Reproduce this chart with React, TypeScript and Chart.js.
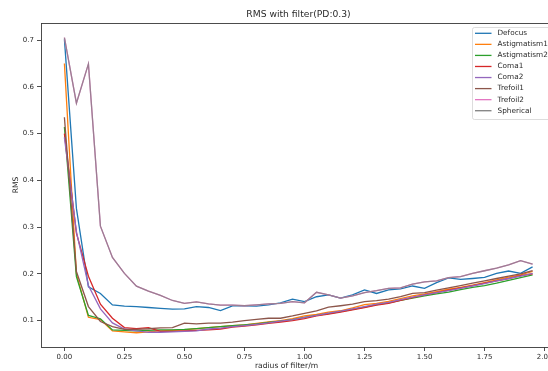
import { useEffect, useRef } from "react";
import { Chart, registerables } from "chart.js";
Chart.register(...registerables);

const RADIUS = [0, 0.05, 0.1, 0.15, 0.2, 0.25, 0.3, 0.35, 0.4, 0.45, 0.5, 0.55, 0.6, 0.65, 0.7, 0.75, 0.8, 0.85, 0.9, 0.95,
  1.0, 1.05, 1.1, 1.15, 1.2, 1.25, 1.3, 1.35, 1.4, 1.45, 1.5, 1.55, 1.6, 1.65, 1.7, 1.75, 1.8, 1.85, 1.9, 1.95];

const DEFOCUS = [0.702, 0.34, 0.172, 0.158, 0.1335, 0.131, 0.13, 0.128, 0.126, 0.1245, 0.125, 0.13, 0.128, 0.1215, 0.1315, 0.1315, 0.131, 0.1335, 0.138, 0.146,
  0.1405, 0.151, 0.155, 0.148, 0.155, 0.1655, 0.158, 0.1655, 0.168, 0.174, 0.169, 0.181, 0.1915, 0.188, 0.19, 0.1925, 0.201, 0.206, 0.201, 0.215];
const ASTIGMATISM1 = [0.65, 0.2, 0.107, 0.102, 0.078, 0.076, 0.074, 0.076, 0.078, 0.079, 0.08, 0.083, 0.085, 0.087, 0.089, 0.091, 0.094, 0.097, 0.1, 0.104,
  0.11, 0.113, 0.118, 0.121, 0.127, 0.134, 0.137, 0.141, 0.147, 0.153, 0.157, 0.162, 0.167, 0.171, 0.176, 0.181, 0.187, 0.193, 0.198, 0.205];
const ASTIGMATISM2 = [0.514, 0.194, 0.111, 0.104, 0.08, 0.079, 0.078, 0.079, 0.08, 0.08, 0.081, 0.083, 0.085, 0.087, 0.089, 0.091, 0.093, 0.096, 0.099, 0.102,
  0.107, 0.111, 0.115, 0.119, 0.124, 0.129, 0.134, 0.138, 0.143, 0.148, 0.153, 0.157, 0.161, 0.166, 0.171, 0.175, 0.18, 0.186, 0.192, 0.198];
const COMA1 = [0.5, 0.287, 0.195, 0.135, 0.105, 0.085, 0.083, 0.085, 0.077, 0.077, 0.078, 0.079, 0.08, 0.082, 0.086, 0.088, 0.091, 0.094, 0.097, 0.1,
  0.104, 0.11, 0.114, 0.118, 0.123, 0.128, 0.133, 0.137, 0.143, 0.149, 0.155, 0.16, 0.165, 0.17, 0.175, 0.18, 0.185, 0.19, 0.196, 0.2];
const COMA2 = [0.492, 0.29, 0.175, 0.125, 0.095, 0.082, 0.078, 0.075, 0.075, 0.076, 0.077, 0.078, 0.082, 0.084, 0.087, 0.089, 0.092, 0.095, 0.099, 0.102,
  0.107, 0.111, 0.116, 0.12, 0.125, 0.13, 0.135, 0.139, 0.145, 0.15, 0.155, 0.16, 0.164, 0.169, 0.174, 0.179, 0.185, 0.19, 0.195, 0.201];
const TREFOIL1 = [0.535, 0.205, 0.13, 0.098, 0.087, 0.081, 0.081, 0.0825, 0.0846, 0.085, 0.0945, 0.093, 0.0945, 0.0945, 0.0966, 0.1, 0.1025, 0.105, 0.105, 0.11,
  0.1156, 0.1206, 0.1286, 0.1317, 0.135, 0.1405, 0.1426, 0.146, 0.151, 0.158, 0.16, 0.165, 0.17, 0.175, 0.18, 0.185, 0.19, 0.195, 0.2, 0.207];
const TREFOIL2 = [0.705, 0.565, 0.649, 0.302, 0.235, 0.201, 0.1735, 0.163, 0.154, 0.143, 0.137, 0.14, 0.1356, 0.133, 0.133, 0.1317, 0.1335, 0.1356, 0.137, 0.1405,
  0.138, 0.1605, 0.155, 0.148, 0.153, 0.16, 0.164, 0.169, 0.17, 0.178, 0.183, 0.185, 0.1917, 0.194, 0.201, 0.2066, 0.212, 0.219, 0.228, 0.221];
const SPHERICAL = [0.705, 0.565, 0.649, 0.302, 0.235, 0.201, 0.1735, 0.163, 0.154, 0.143, 0.137, 0.14, 0.1356, 0.133, 0.133, 0.1317, 0.1335, 0.1356, 0.137, 0.1405,
  0.138, 0.1605, 0.155, 0.148, 0.153, 0.16, 0.164, 0.169, 0.17, 0.178, 0.183, 0.185, 0.1917, 0.194, 0.201, 0.2066, 0.212, 0.219, 0.228, 0.221];

const SERIES_NAMES = ["Defocus", "Astigmatism1", "Astigmatism2", "Coma1", "Coma2", "Trefoil1", "Trefoil2", "Spherical"];
const SERIES_VALUES = [DEFOCUS, ASTIGMATISM1, ASTIGMATISM2, COMA1, COMA2, TREFOIL1, TREFOIL2, SPHERICAL];
const SERIES_COLORS = ["#1f77b4", "#ff7f0e", "#2ca02c", "#d62728", "#9467bd", "#8c564b", "#e377c2", "#7f7f7f"];
const LINE_COLORS = ["#1f77b4", "#ff7f0e", "#2ca02c", "#d62728", "#9467bd", "#8c564b", "#e377c2", "rgba(127,127,127,0.72)"];

const X_TICKS = [0, 0.25, 0.5, 0.75, 1.0, 1.25, 1.5, 1.75, 2.0];
const Y_TICKS = [0.1, 0.2, 0.3, 0.4, 0.5, 0.6, 0.7];

const TITLE = "RMS with filter(PD:0.3)";
const X_LABEL = "radius of filter/m";
const Y_LABEL = "RMS";

const FONT = "'DejaVu Sans', sans-serif";
const TEXT = "#2a2a2a";

const decorPlugin = {
  id: "decor",
  afterDatasetsDraw(chart: any) {
    const { ctx, chartArea: a } = chart;
    ctx.save();
    ctx.strokeStyle = "#3a3a3a";
    ctx.lineWidth = 0.9;
    ctx.strokeRect(a.left + 0.5, a.top + 0.5, a.right - a.left - 1, a.bottom - a.top);
    ctx.restore();
  },
  afterDraw(chart: any) {
    const { ctx, chartArea: a } = chart;
    ctx.save();
    ctx.fillStyle = TEXT;
    // title
    ctx.font = `9.2px ${FONT}`;
    ctx.textAlign = "center";
    ctx.textBaseline = "middle";
    ctx.fillText(TITLE, (a.left + a.right) / 2, 14.5);
    // x label
    ctx.font = `7.6px ${FONT}`;
    ctx.fillText(X_LABEL, (a.left + a.right) / 2 - 12, 366.5);
    // y label
    ctx.save();
    ctx.translate(16.5, (a.top + a.bottom) / 2);
    ctx.rotate(-Math.PI / 2);
    ctx.fillText(Y_LABEL, 0, 0);
    ctx.restore();
    // legend
    const bx = 472, by = 27, bw = 90, bh = 92;
    ctx.fillStyle = "rgba(255,255,255,0.85)";
    ctx.strokeStyle = "#d4d4d4";
    ctx.lineWidth = 0.8;
    ctx.beginPath();
    (ctx as any).roundRect(bx + 0.5, by + 0.5, bw, bh, 2);
    ctx.fill();
    ctx.stroke();
    ctx.font = `7.3px ${FONT}`;
    ctx.textAlign = "left";
    ctx.textBaseline = "middle";
    SERIES_NAMES.forEach((name, i) => {
      const y = 33.3 + i * 11.06;
      ctx.strokeStyle = SERIES_COLORS[i];
      ctx.lineWidth = 1.3;
      ctx.beginPath();
      ctx.moveTo(475, y);
      ctx.lineTo(491.5, y);
      ctx.stroke();
      ctx.fillStyle = TEXT;
      ctx.fillText(name, 497.5, y);
    });
    ctx.restore();
  },
};

export default function App() {
  const ref = useRef<HTMLCanvasElement | null>(null);
  useEffect(() => {
    if (!ref.current) return;
    const chart = new Chart(ref.current, {
      type: "line",
      data: {
        datasets: SERIES_NAMES.map((name, i) => ({
          label: name,
          data: RADIUS.map((x, j) => ({ x, y: SERIES_VALUES[i][j] })),
          borderColor: LINE_COLORS[i],
          backgroundColor: SERIES_COLORS[i],
          borderWidth: 1.3,
          pointRadius: 0,
          tension: 0,
          fill: false,
          order: SERIES_NAMES.length - i,
        })),
      },
      options: {
        animation: false,
        responsive: false,
        devicePixelRatio: 1,
        layout: { padding: { top: 23, left: 0, right: 0, bottom: 0 } },
        plugins: {
          legend: { display: false },
          title: { display: false },
          tooltip: { enabled: false },
        },
        scales: {
          x: {
            type: "linear",
            min: -0.0975,
            max: 2.0475,
            afterBuildTicks: (s: any) => {
              s.ticks = X_TICKS.map((v) => ({ value: v }));
            },
            afterFit: (s: any) => {
              s.height = 24;
            },
            grid: { display: true, drawOnChartArea: false, drawTicks: true, tickLength: 4, color: "#3a3a3a", lineWidth: 0.9 },
            border: { display: false },
            ticks: {
              autoSkip: false,
              maxRotation: 0,
              padding: 2,
              color: TEXT,
              font: { family: FONT, size: 7 },
              callback: (v: any) => Number(v).toFixed(2),
            },
          },
          y: {
            type: "linear",
            min: 0.0435,
            max: 0.7365,
            afterBuildTicks: (s: any) => {
              s.ticks = Y_TICKS.map((v) => ({ value: v }));
            },
            afterFit: (s: any) => {
              s.width = 41;
            },
            grid: { display: true, drawOnChartArea: false, drawTicks: true, tickLength: 4, color: "#3a3a3a", lineWidth: 0.9 },
            border: { display: false },
            ticks: {
              padding: 3,
              color: TEXT,
              font: { family: FONT, size: 7 },
              callback: (v: any) => Number(v).toFixed(1),
            },
          },
        },
      },
      plugins: [decorPlugin],
    } as any);
    return () => chart.destroy();
  }, []);
  return (
    <div style={{ position: "fixed", left: 0, top: 0, width: 548, height: 371, overflow: "hidden", background: "#fff" }}>
      <canvas ref={ref} width={556} height={371} style={{ display: "block" }} />
    </div>
  );
}
